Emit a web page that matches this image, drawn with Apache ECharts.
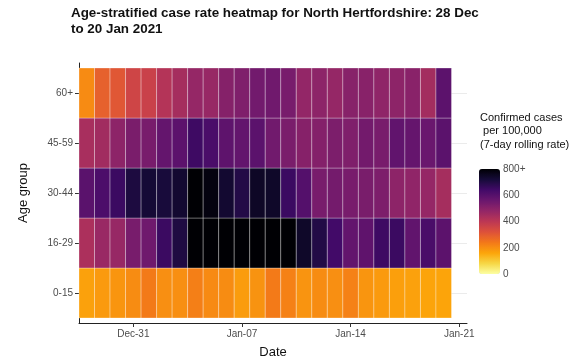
<!DOCTYPE html>
<html>
<head>
<meta charset="utf-8">
<script src="https://cdn.jsdelivr.net/npm/echarts@6/dist/echarts.min.js"></script>
<style>
html,body{margin:0;padding:0;background:#fff;}
#chart{width:585px;height:362px;}
</style>
</head>
<body>
<div id="chart"></div>
<script>
// ---- data ----
const dates = ['2020-12-28','2020-12-29','2020-12-30','2020-12-31','2021-01-01','2021-01-02',
  '2021-01-03','2021-01-04','2021-01-05','2021-01-06','2021-01-07','2021-01-08','2021-01-09',
  '2021-01-10','2021-01-11','2021-01-12','2021-01-13','2021-01-14','2021-01-15','2021-01-16',
  '2021-01-17','2021-01-18','2021-01-19','2021-01-20'];
const ageGroups = ['0-15','16-29','30-44','45-59','60+'];
const rate0_15  = [168,180,188,204,236,200,200,228,208,204,176,192,236,224,190,204,200,224,188,180,170,168,162,162];
const rate16_29 = [432,468,472,532,550,652,704,850,900,940,960,930,880,830,744,698,640,574,582,648,652,578,624,588];
const rate30_44 = [592,620,652,708,724,716,732,810,784,732,696,748,744,652,604,532,540,532,530,522,492,486,476,444];
const rate45_59 = [440,452,492,528,532,572,588,648,624,584,574,590,546,528,506,510,524,520,542,532,578,570,560,590];
const rate60p   = [206,288,308,356,368,416,444,476,472,508,520,544,548,532,480,492,476,504,502,488,492,500,448,588];
const xTickDates  = ['2020-12-31','2021-01-07','2021-01-14','2021-01-21'];
const xTickLabels = ['Dec-31','Jan-07','Jan-14','Jan-21'];
const legendTicks = [0,200,400,600,800];
const legendTickLabels = ['0','200','400','600','800+'];

// ---- build ----
const DAY = 86400000;
const t0 = Date.parse(dates[0]);
const dayOf = d => Math.round((Date.parse(d) - t0) / DAY);
const rows = [rate0_15, rate16_29, rate30_44, rate45_59, rate60p];
const cells = [];
rows.forEach((arr, gi) => {
  arr.forEach((v, di) => cells.push([dayOf(dates[di]), gi + 1, v]));
});
const xTickVals = xTickDates.map(dayOf);
const yTickVals = ageGroups.map((g, i) => i + 1);

const inferno = ['#000004','#160b39','#420a68','#6a176e','#932667','#bc3754',
                 '#dd513a','#f37819','#fca50a','#f6d746','#fcffa4'];
const scaleColors = inferno.slice().reverse();

const FONT = '"Liberation Sans", Arial, sans-serif';
const chart = echarts.init(document.getElementById('chart'), null, {renderer:'canvas'});
chart.setOption({
  backgroundColor: '#ffffff',
  animation: false,
  textStyle: {fontFamily: FONT},
  title: [{
    text: 'Age-stratified case rate heatmap for North Hertfordshire: 28 Dec\nto 20 Jan 2021',
    left: 71, top: 5, padding: 0,
    textStyle: {fontFamily: FONT, fontSize: 13.4, fontWeight: 'bold', color: '#111', lineHeight: 16}
  }, {
    text: 'Confirmed cases\n per 100,000\n(7-day rolling rate)',
    left: 480, top: 111, padding: 0,
    textStyle: {fontFamily: FONT, fontSize: 11, fontWeight: 'normal', color: '#111', lineHeight: 13.5}
  }],
  grid: [
    {left: 79, top: 63, width: 388, height: 260, outerBoundsMode: 'none', containLabel: false},
    {left: 479, top: 169, width: 21, height: 105, outerBoundsMode: 'none', containLabel: false}
  ],
  xAxis: [{
    gridIndex: 0, type: 'value', min: -0.5, max: dates.length + 0.5,
    name: 'Date', nameLocation: 'middle', nameGap: 23,
    nameTextStyle: {fontFamily: FONT, fontSize: 13, color: '#111'},
    axisLine: {show: true, onZero: false, lineStyle: {color: '#222', width: 1}},
    axisTick: {show: true, length: 4, lineStyle: {color: '#333'}, customValues: xTickVals},
    axisLabel: {customValues: xTickVals, margin: 6, fontSize: 10, color: '#4d4d4d', fontFamily: FONT,
      formatter: v => xTickLabels[xTickVals.indexOf(Math.round(v))] || ''},
    splitLine: {show: false}
  }, {
    gridIndex: 1, type: 'value', show: false, min: 0, max: 1
  }],
  yAxis: [{
    gridIndex: 0, type: 'value', min: 0.4, max: ageGroups.length + 0.6,
    name: 'Age group', nameLocation: 'middle', nameGap: 49,
    nameTextStyle: {fontFamily: FONT, fontSize: 13, color: '#111'},
    axisLine: {show: true, onZero: false, lineStyle: {color: '#222', width: 1}},
    axisTick: {show: true, length: 4, lineStyle: {color: '#333'}, customValues: yTickVals},
    axisLabel: {customValues: yTickVals, margin: 6, fontSize: 10, color: '#4d4d4d', fontFamily: FONT,
      formatter: v => ageGroups[Math.round(v) - 1] || ''},
    splitLine: {show: true, lineStyle: {color: '#ebebeb', width: 1}}
  }, {
    gridIndex: 1, type: 'value', min: 0, max: 800, interval: 200, position: 'right', z: 10,
    axisLine: {show: false},
    axisTick: {show: true, inside: true, length: 4, lineStyle: {color: 'rgba(255,255,255,0.8)'}},
    axisLabel: {margin: 3, fontSize: 10, color: '#4d4d4d', fontFamily: FONT,
      formatter: v => legendTickLabels[legendTicks.indexOf(v)]},
    splitLine: {show: false}
  }],
  visualMap: {
    type: 'continuous', min: 0, max: 800, dimension: 2, seriesIndex: 0,
    calculable: false, orient: 'vertical', left: 479, top: 169, padding: 0,
    itemWidth: 21, itemHeight: 105, text: null, hoverLink: false,
    inRange: {color: scaleColors}
  },
  series: [{
    type: 'custom',
    xAxisIndex: 0, yAxisIndex: 0,
    data: cells,
    encode: {x: 0, y: 1},
    renderItem: function (params, api) {
      const x = api.value(0), y = api.value(1);
      const p0 = api.coord([x - 0.5, y + 0.5]);
      const p1 = api.coord([x + 0.5, y - 0.5]);
      return {
        type: 'rect',
        shape: {x: p0[0], y: p0[1], width: p1[0] - p0[0], height: p1[1] - p0[1]},
        style: {fill: api.visual('color'), stroke: 'rgba(255,255,255,0.3)', lineWidth: 1}
      };
    }
  }]
});
</script>
</body>
</html>
